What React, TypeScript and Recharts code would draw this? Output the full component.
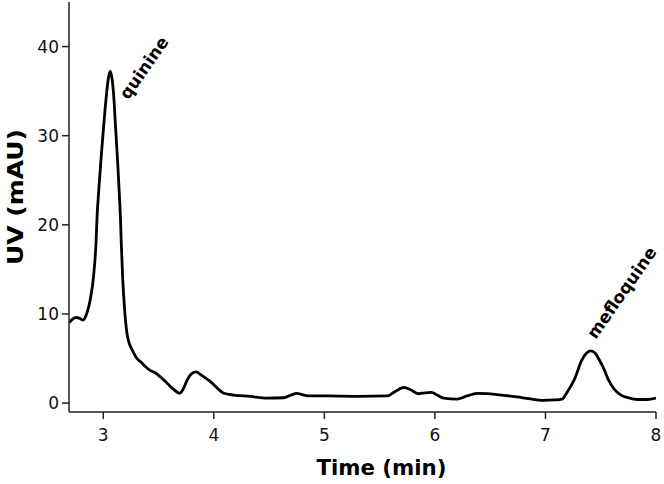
import React from "react";
import { LineChart, Line, XAxis, YAxis, ReferenceDot } from "recharts";

// retention time (min) and UV signal (mAU)
const times = [
  2.69, 2.72, 2.755, 2.79, 2.815, 2.852, 2.882, 2.912, 2.934, 2.945, 2.957, 2.979, 3.003,
  3.03, 3.047, 3.063, 3.078, 3.093, 3.111, 3.129, 3.145, 3.155, 3.163, 3.175, 3.193, 3.214,
  3.235, 3.26, 3.305, 3.34, 3.38, 3.42, 3.47, 3.52, 3.58, 3.64, 3.69, 3.72, 3.76, 3.8,
  3.84, 3.89, 3.97, 4.03, 4.09, 4.18, 4.33, 4.48, 4.63, 4.69, 4.75, 4.8, 4.87, 5.05, 5.3,
  5.57, 5.64, 5.72, 5.78, 5.85, 5.91, 5.97, 6.02, 6.08, 6.2, 6.29, 6.38, 6.47, 6.56,
  6.74, 6.85, 6.98, 7.08, 7.15, 7.2, 7.26, 7.33, 7.37, 7.41, 7.45, 7.48, 7.53, 7.57,
  7.62, 7.68, 7.75, 7.83, 7.92, 8.0,
];
const uv = [
  9.0, 9.4, 9.6, 9.5, 9.3, 10.1, 11.6, 14.2, 17.9, 21.2, 23.5, 27.3, 31.0,
  34.75, 36.5, 37.2, 36.5, 34.75, 31.0, 27.3, 23.5, 20.9, 17.9, 14.2, 10.5, 7.85,
  6.7, 6.0, 5.0, 4.6, 4.1, 3.7, 3.4, 2.9, 2.2, 1.5, 1.1, 1.5, 2.6, 3.3,
  3.5, 3.1, 2.4, 1.7, 1.1, 0.9, 0.75, 0.55, 0.6, 0.85, 1.1, 0.95, 0.8, 0.8, 0.75,
  0.8, 1.3, 1.75, 1.5, 1.05, 1.15, 1.2, 0.9, 0.55, 0.45, 0.8, 1.1, 1.05, 0.95,
  0.7, 0.5, 0.3, 0.35, 0.45, 1.3, 2.6, 4.85, 5.6, 5.85, 5.6, 5.0, 3.8, 2.6,
  1.6, 0.93, 0.6, 0.4, 0.4, 0.55,
];

const xTicks = [3, 4, 5, 6, 7, 8];
const yTicks = [0, 10, 20, 30, 40];

const peaks = [
  { name: "quinine", t: 3.063, v: 37.2, dx: 18, dy: 29 },
  { name: "mefloquine", t: 7.41, v: 5.85, dx: 5, dy: -11 },
];

const data = times.map((t, i) => ({ t, uv: uv[i] }));

const FONT = "'DejaVu Sans', 'Liberation Sans', Arial, sans-serif";
const AXIS = "#222";

function XTitle(props: any) {
  const { x, y, width } = props.viewBox;
  return (
    <text
      x={x + width / 2 + 19}
      y={y + 63}
      textAnchor="middle"
      fontFamily={FONT}
      fontWeight="bold"
      fontSize={22}
      textLength={130}
      lengthAdjust="spacingAndGlyphs"
      fill="#000"
    >
      Time (min)
    </text>
  );
}

function YTitle(props: any) {
  const { y, height } = props.viewBox;
  const cx = 23;
  const cy = y + height / 2 - 10;
  return (
    <text
      x={cx}
      y={cy}
      transform={`rotate(-90, ${cx}, ${cy})`}
      textAnchor="middle"
      fontFamily={FONT}
      fontWeight="bold"
      fontSize={22}
      textLength={136}
      lengthAdjust="spacingAndGlyphs"
      fill="#000"
    >
      UV (mAU)
    </text>
  );
}

function PeakLabel(props: any) {
  const { viewBox, name, dx, dy } = props;
  const px = viewBox.x + viewBox.width / 2 + dx;
  const py = viewBox.y + viewBox.height / 2 + dy;
  return (
    <text
      x={px}
      y={py}
      transform={`rotate(-55, ${px}, ${py})`}
      fontFamily={FONT}
      fontWeight="bold"
      fontSize={17}
      fill="#000"
    >
      {name}
    </text>
  );
}

export default function App() {
  return (
    <div style={{ position: "absolute", left: 0, top: 0, background: "#fff" }}>
      <LineChart
        width={664}
        height={484}
        data={data}
        margin={{ top: 2, right: 8, left: 0, bottom: 0 }}
      >
        <XAxis
          dataKey="t"
          type="number"
          domain={[2.69, 8]}
          ticks={xTicks}
          allowDataOverflow
          height={72}
          tickSize={7}
          tickMargin={10}
          stroke={AXIS}
          strokeWidth={1.5}
          tick={{ fill: "#111", fontSize: 17, fontFamily: FONT }}
          label={{ content: XTitle }}
        />
        <YAxis
          type="number"
          domain={[-1, 45]}
          ticks={yTicks}
          allowDataOverflow
          width={69}
          tickSize={7}
          tickMargin={3}
          stroke={AXIS}
          strokeWidth={1.5}
          tick={{ fill: "#111", fontSize: 17, fontFamily: FONT }}
          label={{ content: YTitle }}
        />
        <Line
          type="monotone"
          dataKey="uv"
          stroke="#000"
          strokeWidth={2.8}
          dot={false}
          activeDot={false}
          isAnimationActive={false}
        />
        {peaks.map((p) => (
          <ReferenceDot
            key={p.name}
            x={p.t}
            y={p.v}
            r={1}
            fill="none"
            stroke="none"
            label={(lp: any) => <PeakLabel {...lp} name={p.name} dx={p.dx} dy={p.dy} />}
          />
        ))}
      </LineChart>
    </div>
  );
}
